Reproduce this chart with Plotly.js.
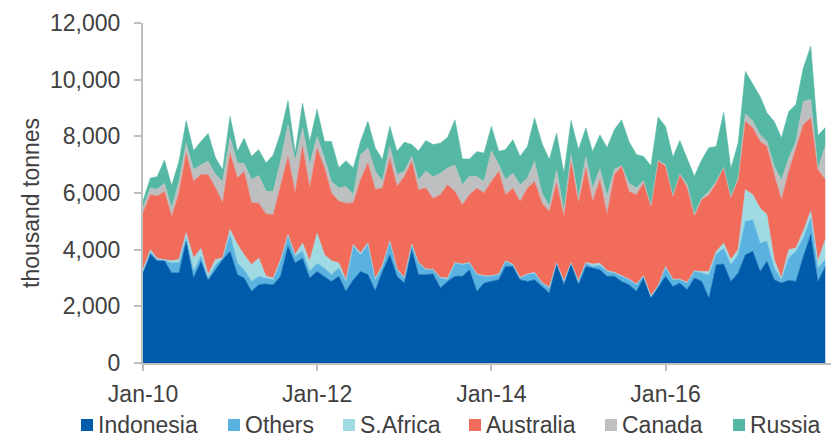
<!DOCTYPE html>
<html><head><meta charset="utf-8">
<script src="https://cdn.plot.ly/plotly-3.0.1.min.js"></script>
<style>html,body{margin:0;padding:0;background:#fff}#chart{width:831px;height:438px}</style>
</head><body><div id="chart"></div>
<script>
// Monthly coal imports (thousand tonnes), Jan-2010 .. Nov-2017
const startYear = 2010;
const seriesNames = ['Indonesia','Others','S.Africa','Australia','Canada','Russia'];
const seriesColors = ['#005BAA','#5AB2E0','#A0DAE2','#F26C5C','#BDBFC1','#55B8A4'];

const indonesia = [3180,3850,3610,3610,3180,3180,4290,3000,3590,2920,
  3290,3650,3940,3120,3000,2530,2760,2790,2760,3060,
  4120,3530,3700,3000,3230,3060,2880,3060,2530,2940,
  3230,3120,2550,3230,3820,3060,2820,4000,3120,3120,
  3140,2650,2880,3060,3060,3290,2530,2820,2880,2940,
  3410,3410,2940,2880,2940,2700,2470,3530,2760,3530,
  2760,3410,3350,3290,3060,3060,2880,2760,2530,3000,
  2290,2650,3060,2700,2820,2590,3000,2880,2290,3470,
  3490,2880,3180,3820,3940,3230,3590,2940,2820,2920,
  2880,3760,4530,2880,3410];
const others = [60,70,40,20,350,350,120,240,180,80,
  180,40,590,410,290,350,290,210,180,530,
  350,240,240,240,290,290,240,290,350,1180,
  590,1060,390,180,470,240,180,180,410,180,
  150,350,60,470,410,240,590,240,180,180,
  180,60,60,240,240,120,180,0,120,0,
  120,120,60,150,180,120,180,180,240,60,
  60,60,290,240,120,240,240,290,820,380,
  560,590,650,1180,1120,1000,710,410,120,790,
  1060,650,590,470,240];
const sAfrica = [60,80,40,20,80,120,180,470,270,120,
  180,20,180,650,530,590,650,60,60,60,
  60,60,290,350,1060,470,490,180,60,60,
  60,60,40,40,20,20,20,20,20,20,
  20,20,60,20,20,20,20,20,20,20,
  20,20,20,20,20,20,20,10,20,10,
  20,20,80,80,20,20,20,20,20,20,
  20,20,60,20,20,20,20,60,120,90,
  180,180,180,1120,880,1230,940,290,60,290,
  120,240,240,240,710];
const australia = [2000,1940,2200,2400,1560,2350,2820,2700,2610,3530,
  2530,1940,2700,2350,2940,2180,1940,2200,2230,2650,
  2760,2180,3410,2590,3000,3060,2390,2180,2700,1470,
  2590,2820,3140,2730,2920,2920,3560,2920,2560,2860,
  2500,2920,3290,2500,2090,2390,3030,2920,3330,3620,
  2330,2680,2680,3030,3210,2800,2680,2810,2270,3580,
  2740,3330,2210,2940,1980,3450,3860,3090,3150,3270,
  3150,4390,3530,2920,3680,3330,1920,2530,2700,2410,
  2650,2180,2470,2410,2350,2350,2410,3000,2760,2760,
  3530,3760,3290,3230,2120];
const canada = [180,240,240,290,290,410,350,410,350,470,
  470,760,530,530,290,820,980,800,820,820,
  1120,1120,650,820,410,350,410,470,590,290,
  880,530,650,240,410,410,180,180,350,590,
  760,760,590,940,710,650,410,410,1080,240,
  530,530,590,350,710,350,180,470,180,240,
  180,410,470,390,650,180,30,290,240,80,
  30,30,60,30,30,120,60,60,120,60,
  30,30,60,270,240,240,180,290,710,470,
  240,820,650,30,1180];
const russia = [240,350,440,820,800,710,790,670,820,980,
  590,410,760,410,880,820,910,1000,1290,1000,
  850,290,880,820,960,590,1410,710,910,940,
  470,940,820,760,710,820,1030,410,1020,1080,
  1140,1060,1080,1590,910,610,880,1000,860,470,
  1060,1180,1000,1120,1530,1760,1650,1290,1350,1200,
  1710,1000,1290,1200,1710,1410,1610,1470,1180,860,
  1410,1530,1350,1350,1180,940,1350,1350,1550,1230,
  1940,1000,1230,1490,1290,1350,1000,1590,1470,1650,
  1290,1180,1880,1180,650];

const xTickVals = ['2010-01-01','2012-01-01','2014-01-01','2016-01-01'];
const xTickText = ['Jan-10','Jan-12','Jan-14','Jan-16'];
const yTickVals = [0,2000,4000,6000,8000,10000,12000];

const months = [];
for (let i = 0; i < indonesia.length; i++) {
  const y = startYear + Math.floor(i / 12), m = (i % 12) + 1;
  months.push(y + '-' + String(m).padStart(2, '0') + '-01');
}

const allSeries = [indonesia, others, sAfrica, australia, canada, russia];
const traces = allSeries.map((vals, k) => ({
  type: 'scatter', mode: 'lines', x: months, y: vals,
  stackgroup: 'one', name: seriesNames[k],
  line: {width: 0.6, color: seriesColors[k]},
  fillcolor: seriesColors[k], showlegend: false, hoverinfo: 'skip'
}));

const txt = '#404040';
const fam = '"Liberation Sans", Arial, sans-serif';
const FS = 23;
const W = 831, H = 438;
const M = {l: 143, r: 0, t: 23, b: 75};
const plotW = W - M.l - M.r, plotH = H - M.t - M.b;
const px2x = p => (p - M.l) / plotW;
const py2y = p => (H - M.b - p) / plotH;

// custom legend row (swatch left edges in px)
const legendSwatchX = [81, 228, 343, 469, 605, 733];
const legendMidY = 424.5;
const shapes = [], annotations = [];
seriesNames.forEach((nm, k) => {
  const x0 = legendSwatchX[k];
  shapes.push({type: 'rect', xref: 'paper', yref: 'paper',
    x0: px2x(x0), x1: px2x(x0 + 12), y0: py2y(legendMidY + 6.5), y1: py2y(legendMidY - 5.5),
    fillcolor: seriesColors[k], line: {width: 0}});
  annotations.push({text: nm, showarrow: false, xref: 'paper', yref: 'paper',
    x: px2x(x0 + 16), y: py2y(legendMidY), xanchor: 'left', yanchor: 'middle',
    borderpad: 0,
    font: {family: fam, size: FS, color: txt}});
});
annotations.push({text: 'thousand tonnes', textangle: -90, showarrow: false,
  xref: 'paper', yref: 'paper', x: px2x(31), y: py2y(203),
  xanchor: 'center', yanchor: 'middle',
  font: {family: fam, size: FS, color: txt}});

const layout = {
  width: W, height: H, margin: M,
  paper_bgcolor: '#fff', plot_bgcolor: '#fff',
  font: {family: fam, size: FS, color: txt},
  showlegend: false,
  xaxis: {type: 'date', range: ['2010-01-01', '2017-11-25'],
    tickvals: xTickVals, ticktext: xTickText,
    ticks: 'outside', ticklen: 6, tickwidth: 2, tickcolor: '#BFBFBF',
    showline: true, linecolor: '#BFBFBF', linewidth: 2,
    showgrid: false, zeroline: false, fixedrange: true,
    ticklabelstandoff: 3,
    tickfont: {family: fam, size: FS, color: txt}},
  yaxis: {range: [0, 12000], tickvals: yTickVals, tickformat: ',',
    ticks: 'outside', ticklen: 7, tickwidth: 2, tickcolor: '#BFBFBF',
    showline: true, linecolor: '#BFBFBF', linewidth: 2,
    showgrid: false, zeroline: false, fixedrange: true,
    ticklabelstandoff: 9,
    tickfont: {family: fam, size: FS, color: txt}},
  shapes: shapes,
  annotations: annotations
};
Plotly.newPlot('chart', traces, layout, {displayModeBar: false, staticPlot: true});
</script></body></html>
